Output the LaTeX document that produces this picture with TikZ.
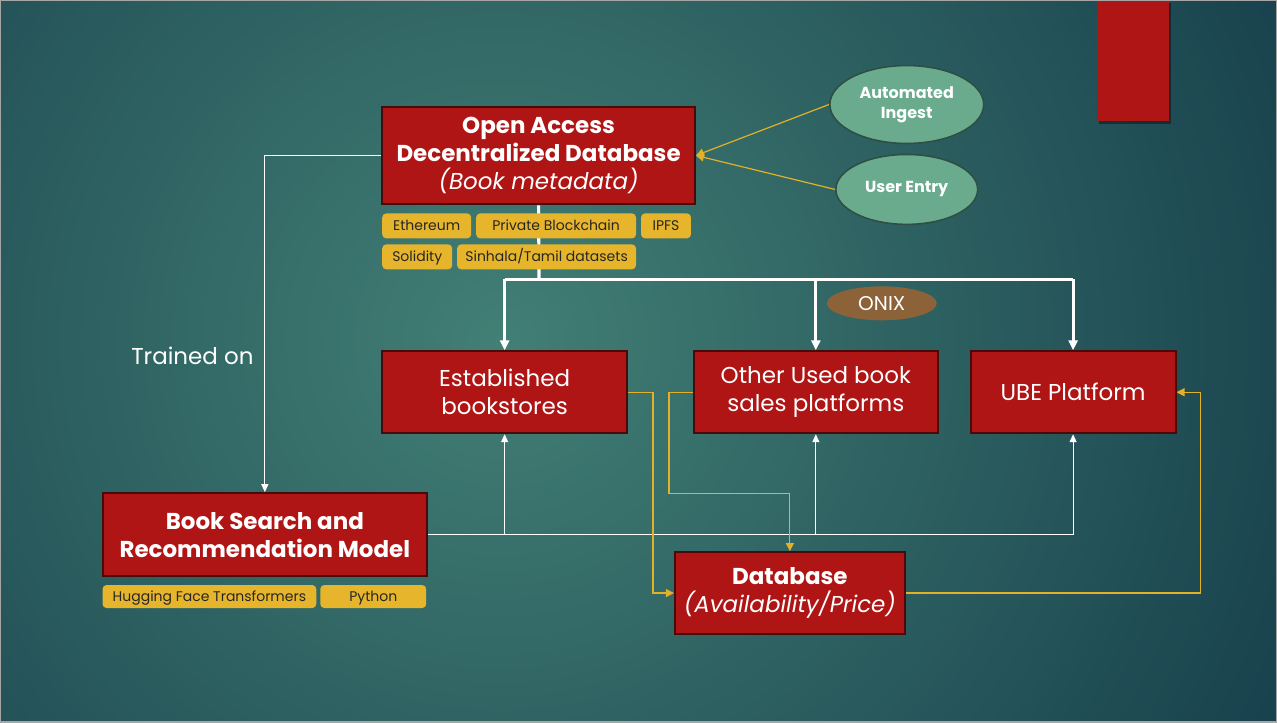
\documentclass[tikz,border=0pt]{standalone}
\usepackage{fontspec}
\setmainfont{Poppins}
\usetikzlibrary{arrows.meta,shapes.geometric,shadows}
\definecolor{boxred}{HTML}{B01515}
\definecolor{boxedge}{HTML}{4A0A0A}
\definecolor{tagyel}{HTML}{E6B52B}
\definecolor{ovgreen}{HTML}{6AAB8E}
\definecolor{ovedge}{HTML}{2E4F45}
\definecolor{onixbr}{HTML}{8C6239}
\definecolor{bginner}{HTML}{427F75}
\definecolor{bgouter}{HTML}{17404C}
\definecolor{lnyel}{HTML}{E3B027}
\pgfdeclarelayer{bg}
\pgfdeclarelayer{lines}
\pgfsetlayers{bg,lines,main}
\tikzset{
  box/.style={rectangle, fill=boxred, draw=boxedge, line width=1pt, text=white, inner sep=0pt, align=center, font=\fontsize{11.5}{14}\selectfont},
  tag/.style={rectangle, rounded corners=2pt, fill=tagyel, inner sep=0pt, minimum height=12.5pt, text height=5.8pt, text depth=1.0pt, text=black!85, font=\fontsize{7}{8}\selectfont},
  oval/.style={ellipse, fill=ovgreen, draw=ovedge, line width=0.8pt, inner sep=0pt, text=white, align=center, font=\bfseries\fontsize{8}{10}\selectfont},
  wline/.style={white, line width=0.6pt, -{Triangle[width=3.5pt,length=4pt]}},
  wbus/.style={white, line width=1.6pt},
  yline/.style={lnyel, line width=0.6pt, -{Triangle[width=4pt,length=4pt]}},
}
\begin{document}
\begin{tikzpicture}[x=0.5pt,y=-0.5pt]
% background
\begin{pgfonlayer}{bg}
\fill[bgouter] (0,0) rectangle (1277,722);
\begin{scope}
\clip (0,0) rectangle (1277,722);
\shade[inner color=bginner, outer color=bgouter] (500,340) circle (880);
\end{scope}
\draw[gray!70, line width=0.6pt] (0,0) rectangle (1277,722);
\end{pgfonlayer}
\useasboundingbox (0,0) rectangle (1277,722);

\node[rectangle, fill=boxred, minimum width=36pt, minimum height=60.5pt, inner sep=0pt, drop shadow={fill=black, opacity=0.4,shadow xshift=1.2pt,shadow yshift=-1.2pt}] (corner) at (1133,60.5){};

% main boxes
\node[box, minimum width=156.5pt, minimum height=49pt] (oadb) at (538.5,155){\textbf{Open Access}\\\textbf{Decentralized Database}\\\itshape(Book metadata)};
\node[box, minimum width=122.5pt, minimum height=41pt] (estab) at (504.5,392){Established\\bookstores};
\node[box, minimum width=122pt, minimum height=41pt] (other) at (816,392){Other Used book\\sales platforms};
\node[box, minimum width=102.5pt, minimum height=41pt] (ube) at (1073.5,392){UBE Platform};
\node[box, minimum width=162.5pt, minimum height=41.5pt] (bsrm) at (264.5,534.5){\textbf{Book Search and}\\\textbf{Recommendation Model}};
\node[box, minimum width=115pt, minimum height=41pt] (db) at (790,593){\textbf{Database}\\\itshape(Availability/Price)};

% tags
\node[tag, minimum width=44.5pt] (eth) at (426.5,225.5){Ethereum};
\node[tag, minimum width=80pt] (pbc) at (556,225.5){Private Blockchain};
\node[tag, minimum width=25pt] (ipfs) at (666,225.5){IPFS};
\node[tag, minimum width=35pt] (sol) at (417,256.5){Solidity};
\node[tag, minimum width=89.5pt] (sin) at (546.5,256.5){Sinhala/Tamil datasets};
\node[tag, minimum width=107pt, minimum height=11.5pt] (hft) at (209,596.5){Hugging Face Transformers};
\node[tag, minimum width=53pt, minimum height=11.5pt] (py) at (373,596.5){Python};

% sources
\node[oval, minimum width=77pt, minimum height=39pt] (ingest) at (907,104){Automated\\Ingest};
\node[oval, minimum width=71pt, minimum height=35pt] (entry) at (907,189){User Entry};
\node[ellipse, fill=onixbr, minimum width=55pt, minimum height=17pt, inner sep=0pt, text=white, font=\fontsize{10}{12}\selectfont] (onix) at (882,303){ONIX};
\node[text=white, font=\fontsize{11.5}{13}\selectfont] (trained) at (192,356){Trained on};

\begin{pgfonlayer}{lines}
\coordinate (bus) at (539,279);
\draw[wbus] (oadb.south) -- (bus);
\draw[wbus] (estab.north |- bus) -- (ube.north |- bus);
\draw[wbus, -{Triangle[width=4.5pt,length=5pt]}] (estab.north |- bus) -- (estab.north);
\draw[wbus, -{Triangle[width=4.5pt,length=5pt]}] (other.north |- bus) -- (other.north);
\draw[wbus, -{Triangle[width=4.5pt,length=5pt]}] (ube.north |- bus) -- (ube.north);

\draw[wline] (oadb.west) -| (bsrm.north);
\draw[wline] (bsrm.east) -| (ube.south);
\draw[wline] (estab.south |- bsrm.east) -- (estab.south);
\draw[wline] (other.south |- bsrm.east) -- (other.south);

\draw[yline] (ingest.west) -- (oadb.east);
\draw[yline] (entry.west) -- (oadb.east);
\draw[yline] (estab.east) -- ++(25,0) |- (db.west);
\draw[yline] (other.west) -- ++(-24,0) -- ++(0,101) -| (db.north);
\draw[yline] (db.east) -- ++(295,0) |- (ube.east);
\end{pgfonlayer}
\end{tikzpicture}
\end{document}
